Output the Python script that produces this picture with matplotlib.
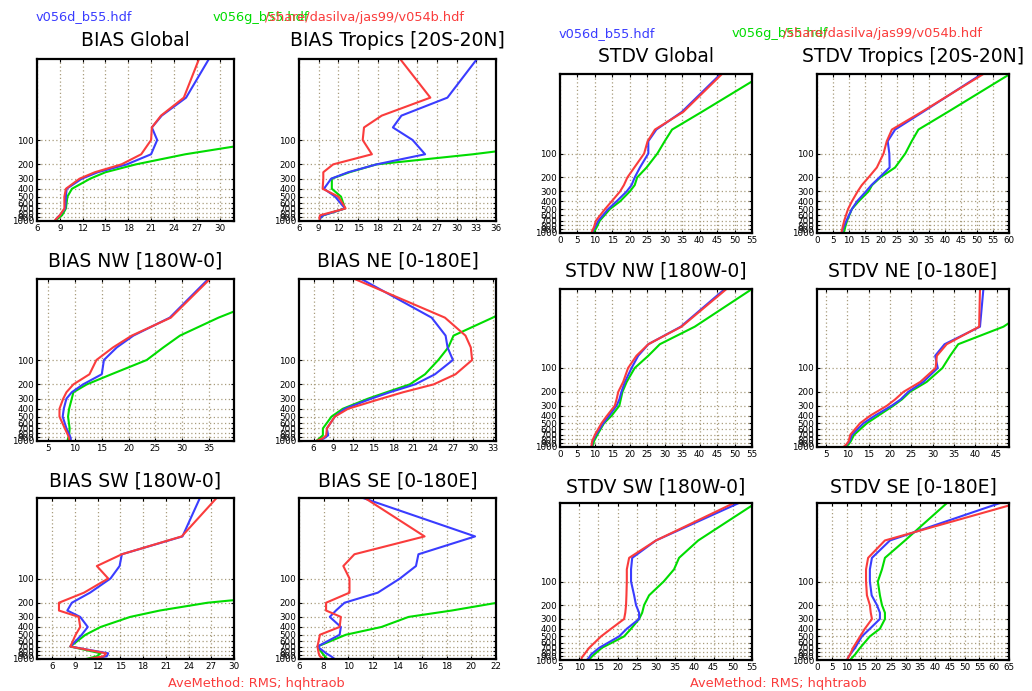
import matplotlib
matplotlib.use("Agg")
import matplotlib.pyplot as plt

W, H = 1032, 691

# pressure levels (hPa)
levels = [10, 30, 50, 70, 100, 150, 200, 250, 300, 400, 500, 700, 850, 925, 1000]
ytick_vals = [100, 200, 300, 400, 500, 600, 700, 800, 900, 1000]

# ---- BIAS Global
bias_glob_blue = [28.6, 25.6, 22.4, 21.1, 21.8, 21.0, 17.8, 14.0, 11.9, 9.9, 9.8, 9.7, 9.0, 8.6, 8.4]
bias_glob_red = [27.3, 25.3, 22.3, 21.1, 21.0, 19.7, 17.1, 13.6, 11.6, 9.8, 9.6, 9.6, 9.0, 8.6, 8.3]
bias_glob_green = [70, 55, 48, 43, 37.3, 25.5, 19.0, 15.0, 13.0, 10.6, 10.0, 9.8, 9.3, 8.8, 8.3]
# ---- BIAS Tropics
bias_trop_blue = [33.1, 28.6, 21.6, 20.3, 23.3, 25.2, 17.8, 13.5, 10.9, 9.8, 11.5, 13.0, 9.7, 9.2, 9.2]
bias_trop_red = [21.4, 26.0, 18.6, 15.9, 15.7, 17.1, 11.2, 9.7, 9.7, 9.6, 12.0, 13.1, 9.2, 9.1, 9.2]
bias_trop_green = [80, 65, 58, 54, 50, 32.5, 17.8, 13.7, 11.0, 11.0, 12.4, 13.0, 9.7, 9.2, 9.2]
# ---- STDV Global
stdv_glob_blue = [46.0, 34.9, 27.6, 25.3, 25.3, 22.9, 21.4, 20.5, 19.1, 16.2, 13.8, 11.0, 10.0, 9.5, 9.2]
stdv_glob_red = [46.4, 35.3, 27.2, 25.1, 24.1, 21.3, 19.3, 18.3, 17.2, 14.8, 12.9, 10.3, 9.7, 9.3, 9.0]
stdv_glob_green = [58.5, 40.6, 32.1, 30.0, 27.9, 24.8, 22.1, 21.4, 20.0, 17.2, 14.3, 11.4, 10.5, 10.0, 9.7]
# ---- STDV Tropics
stdv_trop_blue = [51.5, 33.1, 24.4, 22.1, 22.6, 22.7, 19.5, 17.0, 15.3, 12.5, 10.9, 9.2, 8.3, 8.0, 7.8]
stdv_trop_red = [52.0, 32.7, 23.4, 21.8, 20.8, 18.7, 16.1, 14.0, 12.7, 10.9, 9.7, 8.5, 8.0, 7.8, 7.6]
stdv_trop_green = [60.3, 40.9, 31.7, 29.6, 27.6, 24.4, 19.8, 17.2, 16.1, 13.0, 10.9, 9.4, 8.8, 8.6, 8.3]
# ---- BIAS NW
bias_nw_blue = [34.9, 27.7, 20.9, 17.8, 15.4, 15.0, 11.5, 9.4, 8.4, 7.9, 7.7, 8.4, 9.0, 9.2, 9.2]
bias_nw_red = [35.2, 27.9, 20.6, 17.1, 14.0, 12.7, 9.7, 8.4, 7.8, 7.1, 7.1, 8.1, 8.7, 8.9, 8.9]
bias_nw_green = [55, 36.8, 29.6, 26.5, 23.4, 16.8, 12.2, 9.7, 9.4, 8.9, 8.7, 9.0, 8.9, 8.7, 8.6]
# ---- BIAS NE
bias_ne_blue = [13.2, 23.8, 25.9, 26.2, 27.0, 24.3, 21.3, 17.5, 14.7, 10.7, 9.2, 8.0, 8.2, 7.6, 6.7]
bias_ne_red = [12.2, 25.8, 28.9, 29.7, 29.9, 27.4, 24.1, 19.5, 16.2, 11.2, 9.2, 8.0, 7.9, 7.4, 6.4]
bias_ne_green = [45, 33.0, 27.1, 26.3, 24.8, 22.8, 20.5, 17.0, 14.2, 10.4, 8.7, 7.4, 7.4, 6.9, 6.4]
# ---- STDV NW
stdv_nw_blue = [47.2, 34.6, 25.3, 22.4, 20.5, 18.6, 17.6, 17.0, 16.2, 14.1, 12.4, 10.3, 9.3, 9.2, 9.1]
stdv_nw_red = [47.7, 34.8, 25.3, 21.9, 19.5, 18.1, 16.7, 16.2, 15.7, 13.5, 11.9, 10.0, 9.2, 9.1, 8.9]
stdv_nw_green = [55.0, 38.6, 28.6, 25.3, 21.4, 19.1, 17.9, 17.4, 17.0, 14.8, 12.6, 10.7, 9.7, 9.5, 9.2]
# ---- STDV NE
stdv_ne_blue = [41.9, 41.1, 32.8, 30.6, 31.2, 27.8, 24.3, 22.5, 20.4, 16.5, 13.8, 11.1, 10.5, 9.9, 9.3]
stdv_ne_red = [41.1, 40.9, 33.3, 31.0, 30.7, 27.1, 23.2, 21.2, 19.3, 15.4, 13.0, 10.7, 10.3, 9.8, 9.1]
stdv_ne_green = [60, 46.6, 36.0, 34.1, 32.3, 28.6, 24.7, 22.8, 20.8, 17.3, 14.6, 11.6, 10.8, 10.3, 9.5]
# ---- BIAS SW
bias_sw_blue = [25.5, 23.2, 15.2, 14.9, 13.7, 11.0, 8.6, 8.0, 9.7, 10.7, 9.9, 8.4, 13.4, 13.2, 11.0]
bias_sw_red = [27.7, 23.1, 15.2, 11.9, 13.4, 10.2, 6.9, 6.9, 9.5, 9.7, 9.1, 8.4, 13.1, 12.8, 10.8]
bias_sw_green = [70, 60, 55, 50, 45, 40, 26.5, 20.2, 16.3, 12.4, 10.4, 8.4, 12.4, 11.9, 10.5]
# ---- BIAS SE
bias_se_blue = [11.2, 20.3, 15.7, 15.5, 14.2, 12.4, 9.7, 9.0, 8.5, 9.4, 9.3, 7.5, 8.2, 8.6, 8.9]
bias_se_red = [11.35, 16.2, 10.5, 9.6, 10.1, 10.1, 8.2, 8.2, 9.4, 9.3, 7.7, 7.5, 7.6, 7.7, 8.0]
bias_se_green = [60, 50, 45, 40, 35, 28, 22.1, 18.4, 14.9, 12.7, 9.8, 7.5, 7.9, 8.1, 8.3]
# ---- STDV SW
stdv_sw_blue = [51.6, 30.0, 23.8, 23.5, 23.5, 24.3, 24.8, 25.6, 25.6, 22.4, 20.4, 15.2, 13.1, 12.6, 12.0]
stdv_sw_red = [50.3, 30.0, 23.0, 22.4, 22.4, 22.3, 22.2, 22.0, 21.7, 18.3, 15.7, 12.6, 11.3, 10.7, 10.5]
stdv_sw_green = [56.0, 41.0, 36.0, 34.7, 32.0, 28.2, 26.9, 26.4, 25.6, 23.5, 21.7, 15.9, 13.9, 13.1, 12.6]
# ---- STDV SE
stdv_se_blue = [62.0, 24.7, 18.6, 17.9, 17.9, 18.5, 20.3, 21.3, 21.3, 17.9, 15.2, 12.9, 11.2, 10.6, 10.2]
stdv_se_red = [68.0, 23.0, 17.3, 16.6, 16.6, 16.9, 17.9, 18.2, 18.6, 16.2, 14.6, 12.2, 11.2, 10.6, 10.2]
stdv_se_green = [44.0, 29.8, 23.0, 22.0, 20.6, 21.3, 22.0, 23.0, 23.0, 21.3, 17.9, 14.6, 12.9, 12.0, 11.2]

titles = ["BIAS Global", "BIAS Tropics [20S-20N]", "STDV Global", "STDV Tropics [20S-20N]",
          "BIAS NW [180W-0]", "BIAS NE [0-180E]", "STDV NW [180W-0]", "STDV NE [0-180E]",
          "BIAS SW [180W-0]", "BIAS SE [0-180E]", "STDV SW [180W-0]", "STDV SE [0-180E]"]

BLUE = "#3a3cff"
RED = "#fa3c3c"
GREEN = "#00dc00"
GRID = "#a89c7c"

fig = plt.figure(figsize=(W / 100, H / 100), dpi=100)


def ax_px(l, t, r, b):
    return fig.add_axes([l / W, 1 - b / H, (r - l) / W, (b - t) / H])


def text_px(x, y, s, **kw):
    fig.text(x / W, 1 - y / H, s, **kw)


panels = [
    # (box px, xlim, xticks, title y, blue, red, green)
    ((37, 59, 234, 221), (6, 31.9), range(6, 31, 3), 40, bias_glob_blue, bias_glob_red, bias_glob_green),
    ((299, 59, 496, 221), (6, 36), range(6, 37, 3), 40, bias_trop_blue, bias_trop_red, bias_trop_green),
    ((560, 74, 752, 233), (0, 55), range(0, 56, 5), 57, stdv_glob_blue, stdv_glob_red, stdv_glob_green),
    ((817, 74, 1009, 233), (0, 60), range(0, 61, 5), 57, stdv_trop_blue, stdv_trop_red, stdv_trop_green),
    ((37, 279, 234, 441), (2.9, 39.7), range(5, 36, 5), 261, bias_nw_blue, bias_nw_red, bias_nw_green),
    ((299, 279, 496, 441), (3.8, 33.5), range(6, 34, 3), 261, bias_ne_blue, bias_ne_red, bias_ne_green),
    ((560, 289, 752, 447), (0, 55), range(0, 56, 5), 271, stdv_nw_blue, stdv_nw_red, stdv_nw_green),
    ((817, 289, 1009, 447), (2.9, 47.9), range(5, 46, 5), 271, stdv_ne_blue, stdv_ne_red, stdv_ne_green),
    ((37, 498, 234, 659), (4.0, 30), range(6, 31, 3), 481, bias_sw_blue, bias_sw_red, bias_sw_green),
    ((299, 498, 496, 659), (6, 22), range(6, 23, 2), 481, bias_se_blue, bias_se_red, bias_se_green),
    ((560, 503, 752, 660), (5, 55), range(5, 56, 5), 487, stdv_sw_blue, stdv_sw_red, stdv_sw_green),
    ((817, 503, 1009, 660), (0, 65), range(0, 66, 5), 487, stdv_se_blue, stdv_se_red, stdv_se_green),
]

for i, (box, xl, xt, ty, b, r, g) in enumerate(panels):
    ax = ax_px(*box)
    ax.set_yscale("log")
    ax.set_ylim(1000, 10)
    ax.set_xlim(*xl)
    ax.set_yticks(ytick_vals)
    ax.set_yticklabels([str(v) for v in ytick_vals])
    ax.yaxis.set_minor_locator(matplotlib.ticker.NullLocator())
    ax.set_xticks(list(xt))
    ax.set_xticklabels([str(v) for v in xt])
    ax.tick_params(axis="both", labelsize=6.3, length=2.5, width=0.8, direction="in",
                   pad=2, colors="black", top=True, right=True)
    for v in ytick_vals:
        ax.axhline(v, color=GRID, lw=0.9, ls=(0, (1, 2)), zorder=1)
    for v in xt:
        ax.axvline(v, color=GRID, lw=0.9, ls=(0, (1, 2)), zorder=1)
    ax.plot(g, levels, color=GREEN, lw=1.5, zorder=3, clip_on=True)
    ax.plot(b, levels, color=BLUE, lw=1.5, zorder=4, clip_on=True)
    ax.plot(r, levels, color=RED, lw=1.5, zorder=5, clip_on=True)
    for s in ax.spines.values():
        s.set_linewidth(1.6)
        s.set_zorder(6)
    l, t, rr, bb = box
    text_px((l + rr) / 2, ty, titles[i], ha="center", va="center", fontsize=13.5,
            family="DejaVu Sans")

# header labels
text_px(36, 17, "v056d_b55.hdf", color=BLUE, fontsize=9.3, ha="left", va="center")
text_px(213, 17, "v056g_b55.hdf", color=GREEN, fontsize=9.3, ha="left", va="center")
text_px(265, 17, "/share/dasilva/jas99/v054b.hdf", color=RED, fontsize=9.3, ha="left", va="center")
text_px(559, 34, "v056d_b55.hdf", color=BLUE, fontsize=9.3, ha="left", va="center")
text_px(732, 34, "v056g_b55.hdf", color=GREEN, fontsize=9.3, ha="left", va="center")
text_px(783, 34, "/share/dasilva/jas99/v054b.hdf", color=RED, fontsize=9.3, ha="left", va="center")

text_px(168, 683, "AveMethod: RMS; hqhtraob", color=RED, fontsize=9.3, ha="left", va="center")
text_px(690, 683, "AveMethod: RMS; hqhtraob", color=RED, fontsize=9.3, ha="left", va="center")

fig.savefig("out.png", dpi=100, facecolor="white")
